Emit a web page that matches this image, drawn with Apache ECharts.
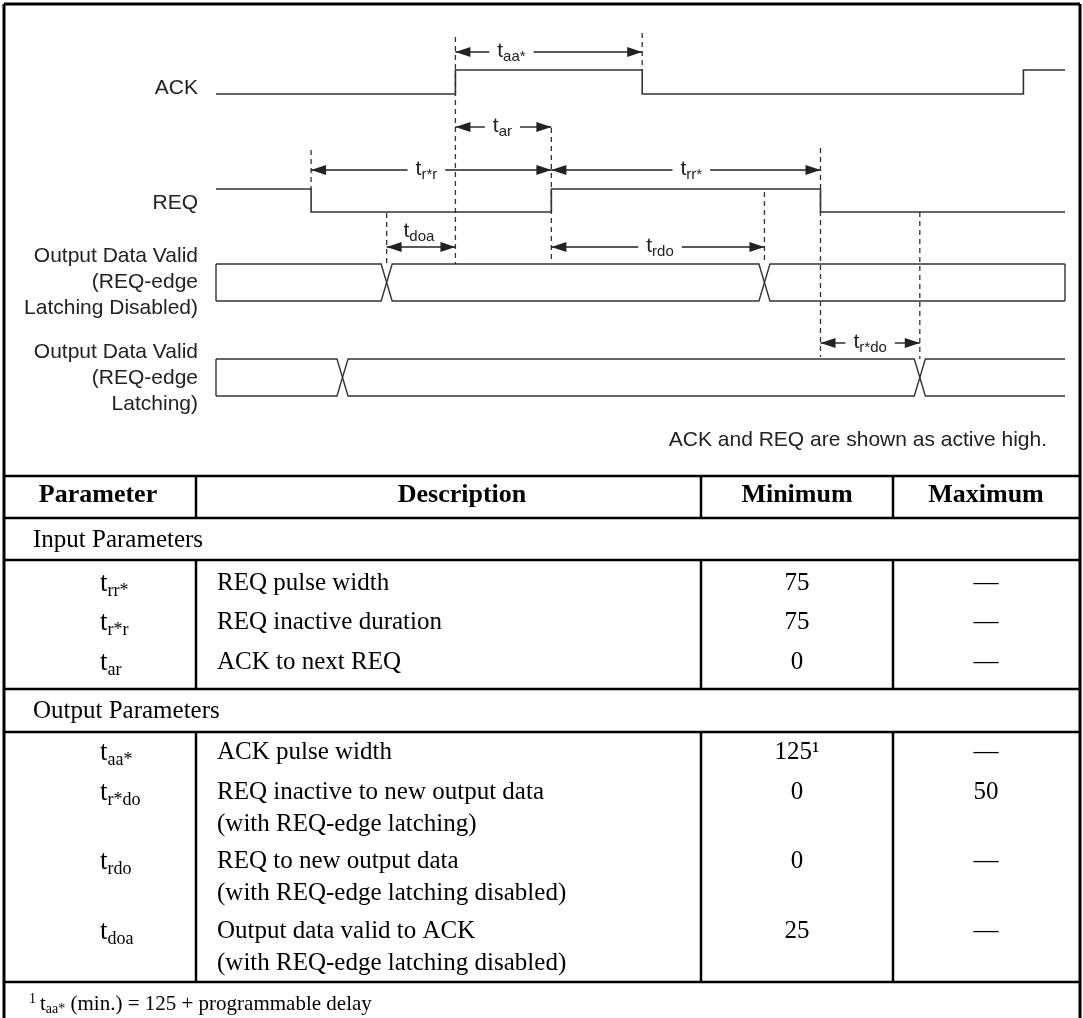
<!DOCTYPE html>
<html lang="en">
<head>
<meta charset="UTF-8">
<title>ACK / REQ handshake timing</title>
<script src="https://cdn.jsdelivr.net/npm/echarts@6/dist/echarts.min.js"></script>
<style>
    html, body { margin: 0; padding: 0; background: #fff; }
    #main { width: 1083px; height: 1018px; }
</style>
</head>
<body>
<div id="main"></div>
<script type="text/javascript">
    // ---- waveform data, time runs 0..100 along the traces ----
    var traceSpan = [0, 100];
    var ackEdges = [28.2, 50.2, 95.1];      // ACK starts low
    var reqEdges = [11.2, 39.5, 71.2];      // REQ starts high
    var busDisabledEdges = [20.1, 64.6];    // data valid, REQ-edge latching disabled
    var busLatchEdges = [14.9, 82.9];       // data valid, REQ-edge latching
    var crossHalf = 0.65;                   // half width of a bus crossing

    var signalNames = ['ACK', 'REQ'];
    var busNames = [['Output Data Valid', '(REQ-edge', 'Latching Disabled)'],
                    ['Output Data Valid', '(REQ-edge', 'Latching)']];
    var note = 'ACK and REQ are shown as active high.';

    // named events used by arrows and guide lines
    var ev = {
        ackRise: ackEdges[0], ackFall: ackEdges[1],
        reqFall: reqEdges[0], reqRise: reqEdges[1], reqFall2: reqEdges[2],
        doOff1: busDisabledEdges[0], doOff2: busDisabledEdges[1],
        doLatch2: busLatchEdges[1]
    };
    var arrowSubs = ['aa*', 'ar', 'r*r', 'rr*', 'doa', 'rdo', 'r*do'];
    var arrowFrom = ['ackRise', 'ackRise', 'reqFall', 'reqRise', 'doOff1', 'reqRise', 'reqFall2'];
    var arrowTo = ['ackFall', 'reqRise', 'reqRise', 'reqFall2', 'ackRise', 'doOff2', 'doLatch2'];

    // ---- table data ----
    var headers = ['Parameter', 'Description', 'Minimum', 'Maximum'];
    var sectionTitles = ['Input Parameters', 'Output Parameters'];
    var inputSubs = ['rr*', 'r*r', 'ar'];
    var inputDesc = [['REQ pulse width'], ['REQ inactive duration'], ['ACK to next REQ']];
    var inputMin = ['75', '75', '0'];
    var inputMax = ['\u2014', '\u2014', '\u2014'];
    var outputSubs = ['aa*', 'r*do', 'rdo', 'doa'];
    var outputDesc = [['ACK pulse width'],
        ['REQ inactive to new output data', '(with REQ-edge latching)'],
        ['REQ to new output data', '(with REQ-edge latching disabled)'],
        ['Output data valid to ACK', '(with REQ-edge latching disabled)']];
    var outputMin = ['125\u00b9', '0', '0', '25'];
    var outputMax = ['\u2014', '50', '\u2014', '\u2014'];
    var footSub = 'aa*';
    var footText = ' (min.) = 125 + programmable delay';

    // ---- layout (page units) ----
    var SANS = '"Liberation Sans", Arial, Helvetica, sans-serif';
    var SERIF = '"Liberation Serif", "Times New Roman", Times, serif';
    var INK = '#333';
    var lay = {
        lanes: [{hi: 70, lo: 94}, {hi: 189, lo: 212}],
        buses: [{top: 264, bot: 301, closed: true}, {top: 359, bot: 396, closed: false}],
        nameRight: 198, nameY: [88, 203], busNameY: [282, 378], nameLine: 25.8,
        arrowY: [52, 127, 170, 170, 247, 247, 343],
        arrowAt: [0.30, 0.49, 0.48, 0.52, 0.47, 0.51, 0.50],
        guides: [['ackRise', 37, 264], ['ackFall', 33, 70], ['reqFall', 150, 189],
                 ['reqRise', 128, 260], ['reqFall2', 148, 357], ['doOff1', 213, 264],
                 ['doOff2', 192, 263], ['doLatch2', 212, 359]],
        noteRight: 1047, noteY: 440,
        frame: {l: 4, r: 1080, t: 4, b: 1030},
        hLines: [476, 518, 560, 689, 732, 982],
        cols: [196, 701, 893],
        vSpans: [[476, 518], [560, 689], [732, 982]],
        headX: [98, 462, 797, 986], headY: 495,
        sectionX: 33, sectionY: [540, 711],
        inputY: [583, 622, 662], outputY: [752, 792, 861, 931], lineGap: 32,
        paramX: 100, descX: 217, minX: 797, maxX: 986,
        footX: 29, footY: 1004
    };

    var measure = document.createElement('canvas').getContext('2d');
    function textW(s, font) { measure.font = font; return measure.measureText(s).width; }

    function txt(x, y, s, font, align, fill) {
        return {type: 'text', x: x, y: y, silent: true,
            style: {text: s, font: font, align: align || 'left', verticalAlign: 'middle', fill: fill || '#000'}};
    }
    // "t" with a subscript
    function tSub(x, y, sub, mainFont, subFont, dy, align, fill) {
        var wm = textW('t', mainFont), ws = textW(sub, subFont);
        var left = align === 'center' ? x - (wm + ws) / 2 : x;
        return [txt(left, y, 't', mainFont, 'left', fill), txt(left + wm, y + dy, sub, subFont, 'left', fill)];
    }
    function seg(a, b, w, color, dash) {
        return {type: 'line', silent: true, shape: {x1: a[0], y1: a[1], x2: b[0], y2: b[1]},
            style: {stroke: color || INK, lineWidth: w || 1.5, lineDash: dash || null}};
    }
    function poly(points, w) {
        return {type: 'polyline', silent: true, shape: {points: points},
            style: {stroke: INK, lineWidth: w || 1.5, fill: null}};
    }

    function renderTraces(params, api) {
        var i = params.dataIndex, out = [];
        if (i < 2) {
            var edges = i === 0 ? ackEdges : reqEdges;
            var lvl = i === 0 ? 0 : 1, lane = lay.lanes[i];
            var yOf = function (l) { return l ? lane.hi : lane.lo; };
            var pts = [api.coord([traceSpan[0], yOf(lvl)])];
            edges.forEach(function (e) {
                pts.push(api.coord([e, yOf(lvl)]));
                lvl = 1 - lvl;
                pts.push(api.coord([e, yOf(lvl)]));
            });
            pts.push(api.coord([traceSpan[1], yOf(lvl)]));
            out.push(poly(pts, 1.6));
        } else {
            var b = lay.buses[i - 2];
            var bEdges = i === 2 ? busDisabledEdges : busLatchEdges;
            [0, 1].forEach(function (startTop) {
                var up = startTop, yy = function (u) { return u ? b.top : b.bot; };
                var pts = [api.coord([traceSpan[0], yy(up)])];
                bEdges.forEach(function (c) {
                    pts.push(api.coord([c - crossHalf, yy(up)]));
                    up = 1 - up;
                    pts.push(api.coord([c + crossHalf, yy(up)]));
                });
                pts.push(api.coord([traceSpan[1], yy(up)]));
                out.push(poly(pts, 1.4));
            });
            out.push(seg(api.coord([traceSpan[0], b.top]), api.coord([traceSpan[0], b.bot]), 1.4));
            if (b.closed) {
                out.push(seg(api.coord([traceSpan[1], b.top]), api.coord([traceSpan[1], b.bot]), 1.4));
            }
        }
        return {type: 'group', children: out};
    }

    function renderGuides(params, api) {
        var g = lay.guides[params.dataIndex];
        return seg(api.coord([ev[g[0]], g[1]]), api.coord([ev[g[0]], g[2]]), 1.3, '#333', [5, 4]);
    }

    function renderArrow(params, api) {
        var i = params.dataIndex, y = lay.arrowY[i];
        var p1 = api.coord([ev[arrowFrom[i]], y]), p2 = api.coord([ev[arrowTo[i]], y]);
        var x1 = p1[0], x2 = p2[0], py = p1[1], L = 15, hh = 5;
        var mf = '21px ' + SANS, sf = '15px ' + SANS;
        var cx = x1 + (x2 - x1) * lay.arrowAt[i];
        var lw = textW('t', mf) + textW(arrowSubs[i], sf), pad = 8;
        var out = [];
        if (arrowSubs[i] === 'doa') {
            out.push(seg([x1, py], [x2, py], 1.4, '#222'));
            out = out.concat(tSub(cx, py - 16, arrowSubs[i], mf, sf, 6, 'center', '#222'));
        } else {
            out.push(seg([x1, py], [cx - lw / 2 - pad, py], 1.4, '#222'));
            out.push(seg([cx + lw / 2 + pad, py], [x2, py], 1.4, '#222'));
            out = out.concat(tSub(cx, py - 1, arrowSubs[i], mf, sf, 6, 'center', '#222'));
        }
        out.push({type: 'polygon', silent: true, shape: {points: [[x1, py], [x1 + L, py - hh], [x1 + L, py + hh]]}, style: {fill: '#222'}});
        out.push({type: 'polygon', silent: true, shape: {points: [[x2, py], [x2 - L, py - hh], [x2 - L, py + hh]]}, style: {fill: '#222'}});
        return {type: 'group', children: out};
    }

    function renderPage(params, api) {
        var out = [], P = function (x, y) { return api.coord([x, y]); };
        var f = lay.frame;
        // frame
        out.push(seg(P(f.l, f.t), P(f.r, f.t), 3, '#000'));
        out.push(seg(P(f.l, f.t), P(f.l, f.b), 3, '#000'));
        out.push(seg(P(f.r, f.t), P(f.r, f.b), 3, '#000'));
        // signal names
        var nf = '21px ' + SANS;
        signalNames.forEach(function (n, k) {
            var p = P(lay.nameRight, lay.nameY[k]);
            out.push(txt(p[0], p[1], n, nf, 'right', '#222'));
        });
        busNames.forEach(function (lines, k) {
            lines.forEach(function (s, j) {
                var p = P(lay.nameRight, lay.busNameY[k] + (j - 1) * lay.nameLine);
                out.push(txt(p[0], p[1], s, nf, 'right', '#222'));
            });
        });
        var np = P(lay.noteRight, lay.noteY);
        out.push(txt(np[0], np[1], note, nf, 'right', '#222'));

        // table grid lines
        lay.hLines.forEach(function (y) { out.push(seg(P(f.l, y), P(f.r, y), 2.5, '#000')); });
        lay.vSpans.forEach(function (s) {
            lay.cols.forEach(function (x) { out.push(seg(P(x, s[0]), P(x, s[1]), 2.5, '#000')); });
        });
        // header
        var hf = 'bold 26px ' + SERIF;
        headers.forEach(function (h, k) {
            var p = P(lay.headX[k], lay.headY);
            out.push(txt(p[0], p[1], h, hf, 'center'));
        });
        var bf = '25px ' + SERIF, tf = '27px ' + SERIF, sf = '18px ' + SERIF;
        sectionTitles.forEach(function (s, k) {
            var p = P(lay.sectionX, lay.sectionY[k]);
            out.push(txt(p[0], p[1], s, bf, 'left'));
        });
        function rows(subs, desc, mins, maxs, ys) {
            subs.forEach(function (sub, r) {
                var y = ys[r];
                var pp = P(lay.paramX, y);
                out = out.concat(tSub(pp[0], pp[1] + 1, sub, tf, sf, 7, 'left'));
                desc[r].forEach(function (line, j) {
                    var dp = P(lay.descX, y + j * lay.lineGap);
                    out.push(txt(dp[0], dp[1], line, bf, 'left'));
                });
                var mp = P(lay.minX, y), xp = P(lay.maxX, y);
                out.push(txt(mp[0], mp[1], mins[r], bf, 'center'));
                out.push(txt(xp[0], xp[1], maxs[r], bf, 'center'));
            });
        }
        rows(inputSubs, inputDesc, inputMin, inputMax, lay.inputY);
        rows(outputSubs, outputDesc, outputMin, outputMax, lay.outputY);

        // footnote
        var ff = '21px ' + SERIF, fs = '14px ' + SERIF;
        var fp = P(lay.footX, lay.footY);
        out.push(txt(fp[0], fp[1] - 5, '1', fs, 'left'));
        var x0 = fp[0] + textW('1', fs) + 4;
        out = out.concat(tSub(x0, fp[1], footSub, ff, fs, 5, 'left'));
        var x1 = x0 + textW('t', ff) + textW(footSub, fs);
        out.push(txt(x1, fp[1], footText, ff, 'left'));
        return {type: 'group', children: out};
    }

    var chart = echarts.init(document.getElementById('main'), null, {renderer: 'canvas'});
    var option = {
        animation: false,
        backgroundColor: '#fff',
        grid: [
            {left: 216, right: 18, top: 0, height: 476},
            {left: 0, right: 0, top: 0, bottom: 0}
        ],
        xAxis: [
            {gridIndex: 0, type: 'value', min: traceSpan[0], max: traceSpan[1], show: false},
            {gridIndex: 1, type: 'value', min: 0, max: 1083, show: false}
        ],
        yAxis: [
            {gridIndex: 0, type: 'value', min: 0, max: 476, inverse: true, show: false},
            {gridIndex: 1, type: 'value', min: 0, max: 1018, inverse: true, show: false}
        ],
        series: [
            {type: 'custom', xAxisIndex: 1, yAxisIndex: 1, silent: true, renderItem: renderPage, data: [[0, 0]]},
            {type: 'custom', xAxisIndex: 0, yAxisIndex: 0, silent: true, renderItem: renderGuides,
                data: lay.guides.map(function (g, k) { return [ev[g[0]], k]; })},
            {type: 'custom', xAxisIndex: 0, yAxisIndex: 0, silent: true, renderItem: renderTraces,
                data: [[0, 0], [1, 0], [2, 0], [3, 0]]},
            {type: 'custom', xAxisIndex: 0, yAxisIndex: 0, silent: true, renderItem: renderArrow,
                data: arrowSubs.map(function (s, k) { return [ev[arrowFrom[k]], k]; })}
        ]
    };
    chart.setOption(option);
</script>
</body>
</html>
